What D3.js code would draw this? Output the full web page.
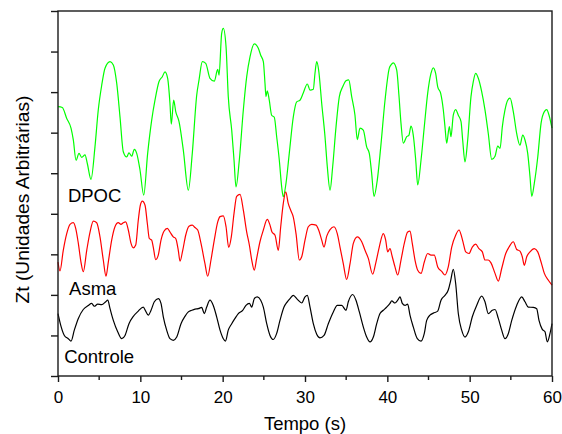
<!DOCTYPE html>
<html>
<head>
<meta charset="utf-8">
<script src="https://cdn.jsdelivr.net/npm/d3@7"></script>
<style>
  body { margin: 0; background: #fff; }
  text { font-family: Arial, "Liberation Sans", sans-serif; fill: #000; }
</style>
</head>
<body>
<div id="chart"></div>
<script>
// time (s), Zt (arbitrary units)
const dpoc = [[0,6.64],[0.52,6.62],[1.06,6.35],[1.58,6.11],[1.86,5.82],[2.19,5.32],[2.55,5.49],[2.88,5.39],[3.28,5.45],[3.56,5.24],[4.01,4.85],[4.49,5.65],[4.89,6.56],[5.31,7.17],[5.71,7.59],[6.32,7.75],[6.72,7.67],[7.13,7.22],[7.53,6.39],[7.93,5.53],[8.34,5.40],[8.62,5.50],[8.95,5.42],[9.27,5.59],[9.56,5.49],[9.96,5.08],[10.41,4.46],[10.89,5.49],[11.38,6.31],[11.78,6.80],[12.27,7.26],[12.67,7.38],[13.0,7.50],[13.32,7.34],[13.6,6.72],[13.76,6.21],[14.05,6.80],[14.3,6.52],[14.7,6.27],[15.22,5.57],[15.83,4.58],[16.31,5.49],[16.85,6.93],[17.13,7.30],[17.53,7.75],[17.94,7.71],[18.46,7.34],[18.98,7.27],[19.4,7.56],[19.56,7.42],[19.88,8.45],[20.08,8.57],[20.41,8.12],[20.68,6.89],[21.1,6.06],[21.38,5.32],[21.62,4.66],[22.02,5.32],[22.51,6.56],[22.92,7.38],[23.32,7.87],[23.84,8.19],[24.33,8.08],[24.62,7.91],[24.94,7.75],[25.14,7.22],[25.26,6.89],[25.42,7.03],[25.66,6.80],[25.95,6.43],[26.27,6.38],[26.56,5.90],[26.88,5.32],[27.17,4.66],[27.36,4.42],[27.69,4.75],[28.09,5.49],[28.58,6.39],[28.99,6.76],[29.39,6.80],[29.79,6.98],[30.28,7.20],[30.61,7.05],[31.01,7.07],[31.21,7.46],[31.42,7.75],[31.66,7.54],[32.03,6.72],[32.43,5.90],[32.71,5.16],[33.04,4.58],[33.36,5.16],[33.77,6.15],[34.17,6.89],[34.58,7.13],[34.98,7.28],[35.31,7.30],[35.67,6.89],[36.07,6.43],[36.35,5.83],[36.68,6.11],[37.08,6.06],[37.49,5.65],[37.81,5.49],[38.1,4.99],[38.38,4.43],[38.78,4.83],[39.2,5.65],[39.72,6.80],[40.24,7.59],[40.45,7.67],[40.73,7.72],[41.14,7.54],[41.42,6.89],[41.66,6.23],[41.94,5.74],[42.35,5.90],[42.63,5.94],[42.87,6.16],[43.15,5.94],[43.45,5.32],[43.69,4.71],[44.09,5.32],[44.49,6.15],[44.9,6.97],[45.3,7.46],[45.58,7.60],[45.87,7.46],[46.12,7.13],[46.48,6.97],[46.8,6.56],[47.0,6.15],[47.21,5.74],[47.53,6.15],[47.73,5.90],[48.01,6.43],[48.3,6.57],[48.62,6.43],[48.95,6.27],[49.15,5.82],[49.43,5.28],[49.76,5.82],[50.16,6.89],[50.44,7.26],[50.73,7.46],[51.05,7.34],[51.46,7.01],[51.86,6.56],[52.26,5.98],[52.68,5.34],[53.08,5.42],[53.41,5.67],[53.69,5.61],[53.97,6.15],[54.29,6.56],[54.62,6.80],[54.9,6.85],[55.3,6.52],[55.71,5.98],[56.11,5.69],[56.44,5.94],[56.72,5.82],[57.05,5.49],[57.33,4.91],[57.54,4.43],[57.85,4.75],[58.27,5.40],[58.67,6.23],[59.07,6.52],[59.36,6.57],[59.64,6.43],[60,6.11]];

const asma = [[0,2.81],[0.24,2.59],[0.64,3.10],[1.06,3.51],[1.46,3.74],[1.86,3.78],[2.15,3.64],[2.47,3.27],[2.79,2.81],[3.07,2.57],[3.49,3.10],[3.89,3.55],[4.29,3.82],[4.7,3.78],[5.1,3.43],[5.5,2.86],[5.83,2.46],[6.11,2.81],[6.52,3.35],[6.92,3.68],[7.32,3.78],[7.65,3.74],[7.93,3.78],[8.22,3.80],[8.54,3.60],[8.87,3.27],[9.15,3.16],[9.44,3.23],[9.75,3.84],[10.0,4.21],[10.24,4.31],[10.57,4.21],[10.85,3.76],[11.09,3.39],[11.38,3.35],[11.57,3.18],[11.87,2.87],[12.18,2.98],[12.51,3.35],[12.87,3.57],[13.28,3.64],[13.6,3.55],[14.0,3.43],[14.3,3.39],[14.61,3.10],[14.82,2.83],[15.15,3.10],[15.51,3.47],[15.91,3.69],[16.31,3.72],[16.64,3.66],[16.97,3.60],[17.37,3.27],[17.85,2.77],[18.18,2.46],[18.58,2.86],[18.98,3.35],[19.4,3.80],[19.68,3.93],[20.08,3.95],[20.41,3.68],[20.73,3.17],[21.05,3.43],[21.38,4.01],[21.7,4.43],[22.11,4.48],[22.51,4.09],[22.92,3.55],[23.24,3.23],[23.53,2.86],[23.84,2.61],[24.13,2.90],[24.53,3.31],[24.94,3.60],[25.42,3.86],[25.75,3.72],[25.99,3.55],[26.36,3.47],[26.76,3.10],[27.05,3.68],[27.36,4.25],[27.66,4.54],[27.97,4.25],[28.3,4.07],[28.58,3.92],[28.91,3.51],[29.31,2.86],[29.6,2.94],[30.0,3.35],[30.4,3.68],[30.81,3.74],[31.34,3.72],[31.66,3.60],[32.03,3.35],[32.31,3.18],[32.64,3.45],[33.04,3.61],[33.52,3.68],[33.92,3.51],[34.25,3.18],[34.65,2.77],[35.06,2.38],[35.47,2.77],[35.87,3.27],[36.35,3.43],[36.89,3.31],[37.29,3.10],[37.69,2.90],[38.22,2.51],[38.62,2.81],[39.02,3.18],[39.51,3.51],[39.8,3.35],[40.04,3.06],[40.32,3.14],[40.6,2.94],[40.93,2.69],[41.26,2.49],[41.66,2.86],[42.06,3.27],[42.47,3.55],[42.75,3.57],[43.03,3.27],[43.36,2.86],[43.69,2.61],[44.09,2.53],[44.49,2.81],[44.9,3.02],[45.3,2.98],[45.7,2.98],[46.12,2.69],[46.6,2.58],[47.0,2.49],[47.4,2.69],[47.82,3.18],[48.3,3.47],[48.71,3.60],[49.03,3.43],[49.23,3.27],[49.52,3.06],[49.92,3.02],[50.32,3.18],[50.73,3.25],[51.13,3.14],[51.54,3.06],[51.86,2.86],[52.26,2.86],[52.59,2.79],[53.08,2.53],[53.48,2.34],[53.89,2.65],[54.38,3.02],[54.78,3.18],[55.3,3.31],[55.71,3.12],[56.11,3.08],[56.39,2.94],[56.64,2.73],[56.93,2.94],[57.33,3.06],[57.85,3.14],[58.27,3.06],[58.67,2.81],[59.07,2.53],[59.56,2.36],[60,2.24]];

const controle = [[0,1.54],[0.36,1.23],[0.77,1.00],[1.25,0.92],[1.58,0.86],[1.98,1.13],[2.47,1.42],[3.07,1.64],[3.68,1.74],[4.09,1.79],[4.41,1.72],[4.82,1.77],[5.31,1.76],[5.79,1.83],[6.04,1.87],[6.32,1.66],[6.72,1.37],[7.25,1.09],[7.74,0.92],[8.14,1.00],[8.62,1.29],[9.15,1.47],[9.75,1.60],[10.36,1.70],[10.65,1.60],[10.97,1.50],[11.3,1.62],[11.7,1.83],[12.18,1.91],[12.51,1.79],[12.79,1.46],[13.2,1.13],[13.6,0.92],[14.0,0.88],[14.42,0.96],[14.94,1.29],[15.42,1.47],[15.83,1.58],[16.24,1.62],[16.64,1.65],[17.04,1.66],[17.45,1.69],[17.77,1.54],[18.06,1.70],[18.46,1.87],[18.86,1.74],[19.27,1.46],[19.68,1.13],[20.08,0.92],[20.34,0.86],[20.68,1.13],[21.1,1.29],[21.5,1.42],[21.9,1.54],[22.43,1.62],[22.83,1.74],[23.24,1.79],[23.53,1.70],[23.84,1.91],[24.21,1.95],[24.62,1.87],[24.94,1.70],[25.35,1.29],[25.75,1.00],[26.15,0.90],[26.56,1.05],[26.96,1.37],[27.45,1.70],[27.85,1.83],[28.18,1.91],[28.58,1.99],[29.07,1.89],[29.6,1.80],[30.0,1.95],[30.28,1.99],[30.61,1.70],[31.01,1.29],[31.42,1.03],[31.82,0.94],[32.31,1.00],[32.83,1.29],[33.44,1.58],[33.92,1.74],[34.46,1.74],[34.98,1.62],[35.26,1.83],[35.79,2.01],[36.19,1.87],[36.6,1.58],[37.08,1.21],[37.49,0.96],[37.9,0.84],[38.3,0.96],[38.71,1.29],[39.11,1.54],[39.51,1.62],[39.92,1.70],[40.32,1.79],[40.53,1.85],[40.93,1.80],[41.26,1.87],[41.54,1.95],[41.82,1.79],[42.15,1.74],[42.47,1.77],[42.75,1.50],[43.15,1.21],[43.64,0.92],[44.09,0.86],[44.49,1.05],[44.78,1.37],[45.18,1.50],[45.58,1.55],[46.12,1.60],[46.52,1.87],[47.0,1.99],[47.4,2.12],[47.7,2.36],[48.01,2.63],[48.3,2.28],[48.62,1.54],[49.03,1.13],[49.43,0.96],[49.84,1.09],[50.32,1.46],[50.85,1.74],[51.46,1.97],[51.86,1.83],[52.26,1.54],[52.75,1.62],[53.08,1.64],[53.48,1.42],[53.89,1.13],[54.29,0.92],[54.7,1.05],[55.11,1.37],[55.71,1.74],[56.32,1.95],[56.72,1.83],[57.12,1.70],[57.73,1.69],[58.14,1.66],[58.42,1.37],[58.82,1.15],[59.15,1.09],[59.43,0.84],[59.76,1.05],[60,1.29]];

const xTicks = [0, 10, 20, 30, 40, 50, 60];
const xMinorTicks = [5, 15, 25, 35, 45, 55];
const yTicks = [0, 1, 2, 3, 4, 5, 6, 7, 8, 9];

const seriesNames = ["DPOC", "Asma", "Controle"];
const seriesColors = ["#00ff00", "#ff0000", "#000000"];
// label anchor: time (s), Zt
const seriesLabelPos = [[1.2, 4.3], [1.35, 2.0], [0.75, 0.31]];

const margin = { top: 11, right: 10, bottom: 58, left: 58 },
  width = 562 - margin.left - margin.right,
  height = 434 - margin.top - margin.bottom;

const svg = d3
  .select("#chart")
  .append("svg")
  .attr("width", width + margin.left + margin.right)
  .attr("height", height + margin.top + margin.bottom)
  .append("g")
  .attr("transform", `translate(${margin.left},${margin.top})`);

const x = d3.scaleLinear().domain([0, 60]).range([0, width]);
const y = d3.scaleLinear().domain([0, 9]).range([height, 0]);

// curves
const line = d3
  .line()
  .curve(d3.curveMonotoneX)
  .x((d) => x(d[0]))
  .y((d) => y(d[1]));

[dpoc, asma, controle].forEach((s, i) => {
  svg
    .append("path")
    .datum(s)
    .attr("fill", "none")
    .attr("stroke", seriesColors[i])
    .attr("stroke-width", 1.2)
    .attr("stroke-linejoin", "round")
    .attr("d", line);
});

// frame
svg
  .append("rect")
  .attr("x", 0)
  .attr("y", 0)
  .attr("width", width)
  .attr("height", height)
  .attr("fill", "none")
  .attr("stroke", "#1a1a1a")
  .attr("stroke-width", 1.4);

// X axis
const xAxis = svg
  .append("g")
  .attr("transform", `translate(0,${height})`)
  .call(d3.axisBottom(x).tickValues(xTicks).tickSize(6).tickPadding(9).tickFormat(d3.format("d")));
xAxis.select(".domain").remove();
xAxis.selectAll("line").attr("stroke", "#1a1a1a").attr("stroke-width", 1.4);
xAxis.selectAll("text").style("font-size", "17px").attr("fill", "#000");

svg
  .append("g")
  .attr("transform", `translate(0,${height})`)
  .selectAll("line")
  .data(xMinorTicks)
  .join("line")
  .attr("x1", (d) => x(d))
  .attr("x2", (d) => x(d))
  .attr("y1", 0)
  .attr("y2", 4)
  .attr("stroke", "#1a1a1a")
  .attr("stroke-width", 1.4);

// Y axis, ticks only
const yAxis = svg
  .append("g")
  .call(d3.axisLeft(y).tickValues(yTicks).tickSize(7).tickFormat(""));
yAxis.select(".domain").remove();
yAxis.selectAll("line").attr("stroke", "#1a1a1a").attr("stroke-width", 1.4);

// axis labels
svg
  .append("text")
  .attr("x", width / 2)
  .attr("y", height + 54)
  .style("text-anchor", "middle")
  .style("font-size", "18.5px")
  .text("Tempo (s)");

svg
  .append("text")
  .attr("transform", "rotate(-90)")
  .attr("x", -height / 2 - 6)
  .attr("y", 29 - margin.left)
  .style("text-anchor", "middle")
  .style("font-size", "19.2px")
  .text("Zt (Unidades Arbitrárias)");

// series labels
svg
  .selectAll(".series-label")
  .data(seriesNames)
  .join("text")
  .attr("class", "series-label")
  .attr("x", (d, i) => x(seriesLabelPos[i][0]))
  .attr("y", (d, i) => y(seriesLabelPos[i][1]))
  .style("font-size", "18.5px")
  .text((d) => d);
</script>
</body>
</html>
